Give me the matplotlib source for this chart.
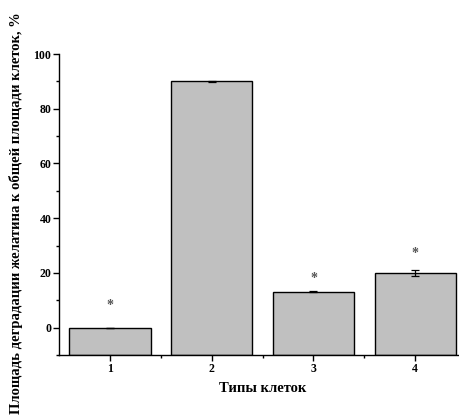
import numpy as np
import matplotlib.pyplot as plt
from matplotlib.ticker import MultipleLocator

# данные
cell_types = ['1', '2', '3', '4']
area_values = [0.0, 90.0, 13.2, 20.0]
area_errors = [0.0, 0.3, 0.2, 1.1]
star_levels = [8.0, None, 18.0, 27.0]

plt.rcParams['font.family'] = ['Liberation Serif', 'DejaVu Serif']
plt.rcParams['font.weight'] = 'bold'

fig = plt.figure(figsize=(4.59, 4.17), dpi=100)
ax = fig.add_axes([0.1285, 0.1487, 0.887, 0.7218])

x = np.arange(1, len(cell_types) + 1)
base = -10
heights = [v - base for v in area_values]
ax.bar(x, heights, bottom=base, width=0.8, color='#c0c0c0',
       edgecolor='black', linewidth=1.0, zorder=2)
ax.errorbar(x, area_values, yerr=area_errors, fmt='none', ecolor='black',
            elinewidth=0.9, capsize=3, capthick=0.9, zorder=3)

for xi, s in zip(x, star_levels):
    if s is not None:
        ax.text(xi, s, '*', ha='center', va='center', fontsize=10,
                color='#555555', fontweight='bold')

ax.set_xlim(0.5, 4.5)
ax.set_ylim(-10, 100)
ax.set_xticks(x)
ax.set_xticklabels(cell_types)
ax.set_xticks([1.5, 2.5, 3.5], minor=True)
ax.yaxis.set_major_locator(MultipleLocator(20))
ax.yaxis.set_minor_locator(MultipleLocator(10))

for side in ['top', 'right']:
    ax.spines[side].set_visible(False)
for side in ['left', 'bottom']:
    ax.spines[side].set_linewidth(1.0)

ax.tick_params(axis='both', which='major', direction='out', length=4,
               width=1.0, labelsize=8.5)
ax.tick_params(axis='x', which='major', pad=2)
ax.tick_params(axis='y', which='major', pad=1.5)
ax.tick_params(axis='both', which='minor', direction='out', length=2,
               width=1.0)
for lab in ax.get_xticklabels() + ax.get_yticklabels():
    lab.set_fontweight('bold')

ax.set_xlabel('Типы клеток', fontsize=10.5, fontweight='bold', labelpad=5)
fig.text(0.035, 0.49, 'Площадь деградации желатина к общей площади клеток, %',
         rotation=90, ha='center', va='center', fontsize=10.5,
         fontweight='bold')

fig.savefig('out.png', dpi=100)
